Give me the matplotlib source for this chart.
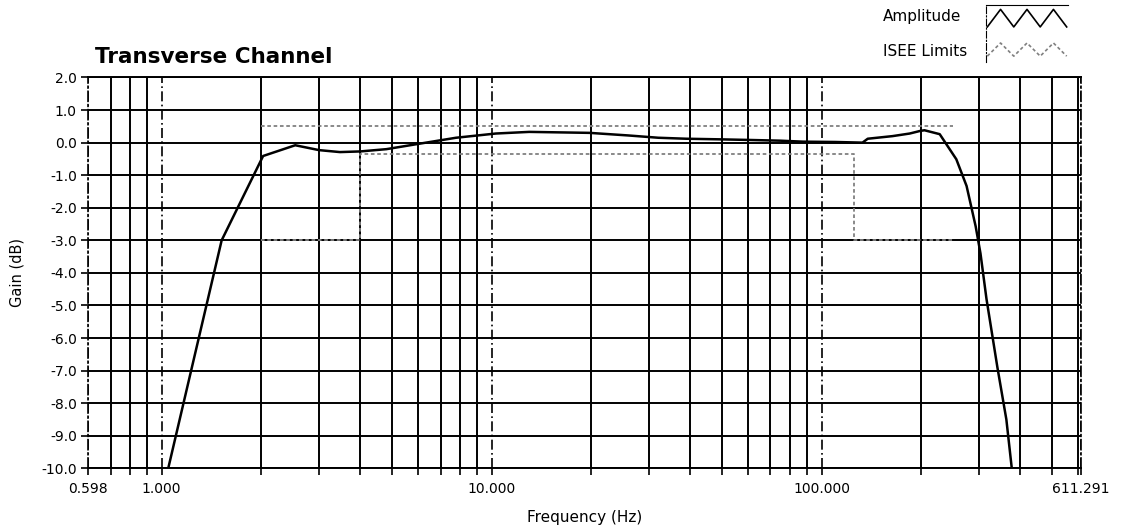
import numpy as np
import matplotlib.pyplot as plt
from matplotlib.ticker import FixedLocator, NullFormatter

# Measured response of the transverse channel
freq_hz = [1.047, 1.52, 2.03, 2.54, 3.0, 3.47, 4.0, 4.8, 5.9, 7.8, 10.3, 13.0,
           19.8, 26.0, 32.0, 38.8, 50.0, 61.8, 75.0, 87.8, 110.0, 133.0, 138.0,
           164.0, 185.0, 199.0, 205.0, 228.0, 256.0, 275.0, 293.0, 303.0,
           316.0, 341.0, 363.0, 377.0]
gain_db = [-10.0, -3.0, -0.41, -0.08, -0.23, -0.29, -0.27, -0.2, -0.05, 0.15,
           0.28, 0.33, 0.3, 0.22, 0.15, 0.12, 0.1, 0.08, 0.06, 0.03, 0.02, 0.0,
           0.12, 0.2, 0.28, 0.36, 0.38, 0.26, -0.51, -1.33, -2.57, -3.4, -4.8,
           -6.9, -8.5, -10.0]

# ISEE tolerance mask
upper_f = [2.0, 250.0]
upper_db = [0.5, 0.5]
lower_f = [2.0, 4.0, 4.0, 125.0, 125.0, 250.0]
lower_db = [-3.0, -3.0, -0.35, -0.35, -3.0, -3.0]

x_min, x_max = 0.598, 611.291
x_major = [0.598, 1.0, 10.0, 100.0, 611.291]
x_major_labels = ['0.598', '1.000', '10.000', '100.000', '611.291']
x_minor = [0.7, 0.8, 0.9] + [m * d for d in (1, 10, 100) for m in range(2, 10)
                             if m * d < x_max]
y_ticks = list(range(-10, 3))
y_labels = ['%.1f' % v for v in y_ticks]

fig = plt.figure(figsize=(11.22, 5.29), dpi=100)
ax = fig.add_axes([0.0784, 0.1147, 0.8851, 0.7388])

ax.set_xscale('log')
ax.set_xlim(x_min, x_max)
ax.set_ylim(-10, 2)

ax.xaxis.set_major_locator(FixedLocator(x_major))
ax.xaxis.set_minor_locator(FixedLocator(x_minor))
ax.set_xticklabels(x_major_labels)
ax.xaxis.set_minor_formatter(NullFormatter())
ax.set_yticks(y_ticks)
ax.set_yticklabels(y_labels)

ax.tick_params(axis='both', which='both', direction='out', length=5,
               width=1.2, color='black', labelsize=10)
ax.tick_params(axis='x', which='major', pad=5)
ax.tick_params(axis='y', pad=3)

# grid: solid minor decades, dash-dot decade lines
ax.grid(True, which='minor', axis='x', color='black', lw=1.4, ls='-')
ax.grid(True, which='major', axis='x', color='black', lw=1.2, ls=(0, (6, 2, 1, 2)))
ax.grid(True, which='major', axis='y', color='black', lw=1.4, ls='-')
ax.set_axisbelow(True)

for side in ('left', 'right'):
    ax.spines[side].set_linestyle((0, (6, 2, 1, 2)))
    ax.spines[side].set_linewidth(1.2)
for side in ('top', 'bottom'):
    ax.spines[side].set_linewidth(1.4)

ax.plot(upper_f, upper_db, color='#808080', lw=1.3, ls=(0, (2, 1.5)))
ax.plot(lower_f, lower_db, color='#808080', lw=1.3, ls=(0, (2, 1.5)))
ax.plot(freq_hz, gain_db, color='black', lw=1.8, solid_joinstyle='round')

ax.set_xlabel('Frequency (Hz)', fontsize=11, labelpad=10)
ax.set_ylabel('Gain (dB)', fontsize=10.5, labelpad=12)

fig.text(95 / 1122, 1 - 57 / 529, 'Transverse Channel', fontsize=15.5,
         fontweight='bold', va='center', ha='left')

# legend with line swatches
fig.text(883 / 1122, 1 - 17 / 529, 'Amplitude', fontsize=11, va='center')
fig.text(883 / 1122, 1 - 51 / 529, 'ISEE Limits', fontsize=11, va='center')

lax = fig.add_axes([986 / 1122, 1 - 62 / 529, 82 / 1122, 57 / 529])
lax.set_xlim(0, 6.2)
lax.set_ylim(-0.3, 3.6)
lax.set_xticks([])
lax.set_yticks([])
for side in ('right', 'bottom'):
    lax.spines[side].set_visible(False)
lax.spines['left'].set_linestyle((0, (6, 2, 1, 2)))
zig_x = np.arange(7)
zig_y = zig_x % 2
lax.plot(zig_x + 0.1, 2.1 + 1.2 * zig_y, color='black', lw=1.2)
lax.plot(zig_x + 0.1, 0.1 + 0.9 * zig_y, color='#808080', lw=1.2,
         ls=(0, (2, 1.5)))

fig.savefig('out.png', dpi=100)
